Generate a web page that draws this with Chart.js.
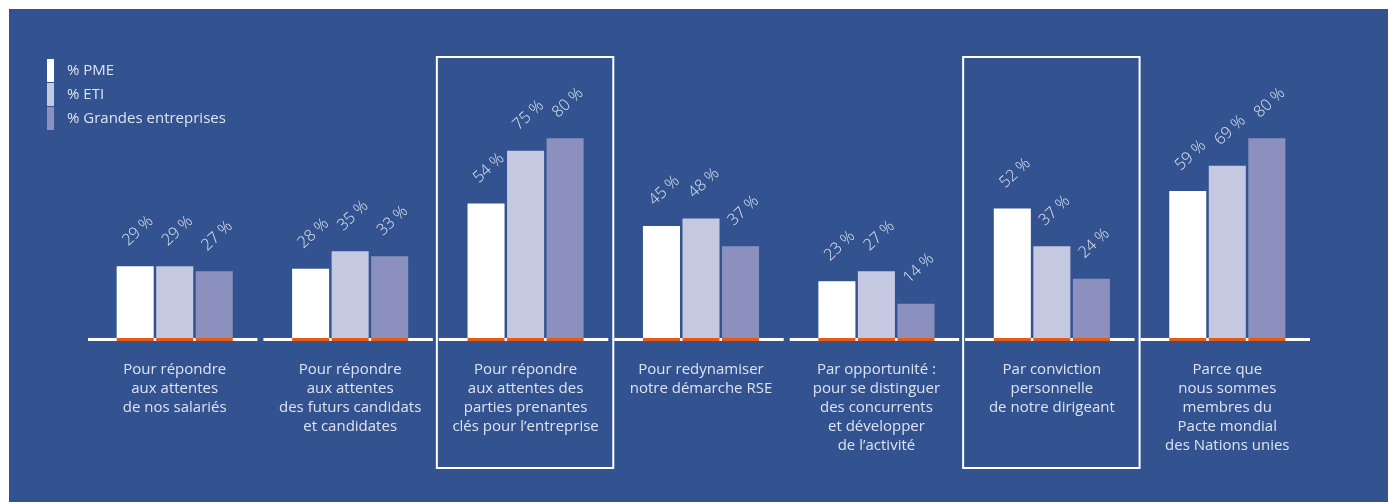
<!DOCTYPE html>
<html lang="fr">
<head>
<meta charset="utf-8">
<script src="https://cdn.jsdelivr.net/npm/chart.js@4"></script>
<style>
  html, body { margin: 0; padding: 0; background: #ffffff; }
  canvas { display: block; }
</style>
</head>
<body>
<canvas id="c" width="1388" height="502"></canvas>
<script>
// Catégories (libellés sur plusieurs lignes)
const categories = [
  ["Pour répondre", "aux attentes", "de nos salariés"],
  ["Pour répondre", "aux attentes", "des futurs candidats", "et candidates"],
  ["Pour répondre", "aux attentes des", "parties prenantes", "clés pour l’entreprise"],
  ["Pour redynamiser", "notre démarche RSE"],
  ["Par opportunité :", "pour se distinguer", "des concurrents", "et développer", "de l’activité"],
  ["Par conviction", "personnelle", "de notre dirigeant"],
  ["Parce que", "nous sommes", "membres du", "Pacte mondial", "des Nations unies"]
];

// Valeurs en %
const pme = [29, 28, 54, 45, 23, 52, 59];
const eti = [29, 35, 75, 48, 27, 37, 69];
const grandes = [27, 33, 80, 37, 14, 24, 80];

const seriesLabels = ["% PME", "% ETI", "% Grandes entreprises"];
const seriesColors = ["#ffffff", "#c5c8e1", "#8b90bf"];

// Catégories mises en avant par un cadre
const highlighted = [2, 5];

const BG = "#32538f";
const TEXT = "#dfe3f1";
const ORANGE = "#e8590f";
const FONT = "'Open Sans', 'DejaVu Sans', sans-serif";

const decor = {
  id: "decor",
  beforeDraw(chart) {
    const ctx = chart.ctx;
    ctx.save();
    ctx.fillStyle = "#ffffff";
    ctx.fillRect(0, 0, chart.width, chart.height);
    ctx.fillStyle = BG;
    ctx.fillRect(9, 9, chart.width - 9, chart.height - 9);
    ctx.restore();
  },
  afterDatasetsDraw(chart) {
    const ctx = chart.ctx;
    const x = chart.scales.x;
    const area = chart.chartArea;
    const n = categories.length;
    const step = (area.right - area.left) / n;
    const base = chart.scales.y.getPixelForValue(0);
    ctx.save();

    // Ligne de base blanche, segmentée par catégorie
    ctx.fillStyle = "#ffffff";
    for (let i = 0; i < n; i++) {
      const cx = x.getPixelForValue(i);
      ctx.fillRect(cx - step / 2 + 1, base - 1, step - 6, 3);
    }

    // Trait orange au pied de chaque barre + étiquettes de valeur inclinées
    chart.data.datasets.forEach((ds, di) => {
      const meta = chart.getDatasetMeta(di);
      meta.data.forEach((bar, i) => {
        const w = bar.width;
        ctx.fillStyle = ORANGE;
        ctx.fillRect(bar.x - w / 2, base - 1, w, 3);

        ctx.save();
        ctx.translate(bar.x - 7, bar.y - 20);
        ctx.rotate(-43 * Math.PI / 180);
        ctx.fillStyle = TEXT;
        ctx.font = "300 16px " + FONT;
        ctx.textAlign = "left";
        ctx.textBaseline = "alphabetic";
        ctx.fillText(ds.data[i] + " %", 0, 0);
        ctx.restore();
      });
    });

    // Libellés des catégories
    ctx.fillStyle = TEXT;
    ctx.font = "15px " + FONT;
    ctx.textAlign = "center";
    ctx.textBaseline = "middle";
    categories.forEach((lines, i) => {
      const cx = x.getPixelForValue(i);
      lines.forEach((line, li) => {
        ctx.fillText(line, cx, base + 31 + li * 19);
      });
    });

    // Cadres autour des catégories mises en avant
    ctx.strokeStyle = "#ffffff";
    ctx.lineWidth = 2;
    highlighted.forEach(i => {
      const cx = x.getPixelForValue(i);
      ctx.strokeRect(cx - step / 2 - 1, 57, step + 1, 411);
    });

    // Légende
    ctx.font = "15px " + FONT;
    ctx.textAlign = "left";
    ctx.textBaseline = "middle";
    seriesLabels.forEach((lab, i) => {
      ctx.fillStyle = seriesColors[i];
      ctx.fillRect(47, 59 + i * 24, 7, 23);
      ctx.fillStyle = TEXT;
      ctx.fillText(lab, 67, 71 + i * 24);
    });

    ctx.restore();
  }
};

new Chart(document.getElementById("c"), {
  type: "bar",
  data: {
    labels: categories,
    datasets: [
      { label: seriesLabels[0], data: pme, backgroundColor: seriesColors[0] },
      { label: seriesLabels[1], data: eti, backgroundColor: seriesColors[1] },
      { label: seriesLabels[2], data: grandes, backgroundColor: seriesColors[2] }
    ]
  },
  options: {
    responsive: false,
    animation: false,
    layout: { padding: { left: 87, right: 73, top: 88, bottom: 163 } },
    datasets: { bar: { categoryPercentage: 0.676, barPercentage: 0.937, borderWidth: 0 } },
    scales: {
      x: { display: false },
      y: { display: false, min: 0, max: 100 }
    },
    plugins: { legend: { display: false }, tooltip: { enabled: false } }
  },
  plugins: [decor]
});
</script>
</body>
</html>
